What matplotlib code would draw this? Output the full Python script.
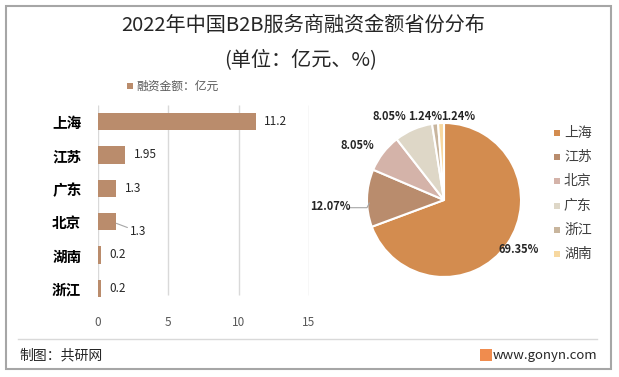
import matplotlib
matplotlib.use("Agg")
import matplotlib.pyplot as plt
from matplotlib.patches import Rectangle
from matplotlib.lines import Line2D

plt.rcParams['font.family'] = ['Noto Sans CJK SC', 'DejaVu Sans']

# Data
bar_categories = ['上海', '江苏', '广东', '北京', '湖南', '浙江']
bar_values = [11.2, 1.95, 1.3, 1.3, 0.2, 0.2]
bar_labels = ['11.2', '1.95', '1.3', '1.3', '0.2', '0.2']
x_ticks = [0, 5, 10, 15]

pie_categories = ['上海', '江苏', '北京', '广东', '浙江', '湖南']
pie_values = [11.2, 1.95, 1.3, 1.3, 0.2, 0.2]
pie_pct_labels = ['69.35%', '12.07%', '8.05%', '8.05%', '1.24%', '1.24%']
pie_colors = ['#D38C4F', '#B98C6D', '#D4B3A9', '#DED7C7', '#C8B59D', '#F7D8A0']

W, H = 619, 377
fig = plt.figure(figsize=(W / 100, H / 100), dpi=100)
fig.patch.set_facecolor('white')

def fx(px):
    return px / W

def fy(py):
    return 1 - py / H

# Border
fig.add_artist(Rectangle((fx(6), fy(369)), fx(611) - fx(6), fy(6) - fy(369),
                         transform=fig.transFigure, fill=False,
                         edgecolor='#A6A6A6', lw=1.5))
# footer separator
fig.add_artist(Line2D([fx(18), fx(597)], [fy(339), fy(339)], transform=fig.transFigure,
                      color='#D9D9D9', lw=1))

# Titles
fig.text(fx(303), fy(25), '2022年中国B2B服务商融资金额省份分布', ha='center', va='center',
         fontsize=14.5, color='#262626')
fig.text(fx(301), fy(60), '(单位：亿元、%)', ha='center', va='center',
         fontsize=14.5, color='#262626')

# Bar legend
fig.add_artist(Rectangle((fx(127), fy(89)), fx(6), 6 / H, transform=fig.transFigure,
                         color='#BA8C6C', lw=0))
fig.text(fx(136), fy(86), '融资金额：亿元', ha='left', va='center', fontsize=8.5,
         color='#595959')

# Bar chart
axb = fig.add_axes([fx(98), fy(305), fx(309) - fx(98), (305 - 105) / H])
ypos = list(range(len(bar_categories)))
axb.barh(ypos, bar_values, height=0.52, color='#BA8C6C', zorder=3)
axb.vlines(x_ticks, -0.5, 5.2, color='#D9D9D9', lw=1, zorder=1)
axb.set_xlim(0, 15)
axb.set_ylim(5.5, -0.5)
axb.set_xticks(x_ticks)
axb.set_xticklabels([str(t) for t in x_ticks])
axb.set_yticks(ypos)
axb.set_yticklabels(bar_categories, fontsize=10.5, fontweight='bold', color='#000000')
axb.tick_params(axis='x', length=0, pad=8, labelsize=8.5, labelcolor='#595959')
axb.tick_params(axis='y', length=0, pad=12)
for s in axb.spines.values():
    s.set_visible(False)
axb.patch.set_alpha(0)
for i, (v, lab) in enumerate(zip(bar_values, bar_labels)):
    if bar_categories[i] == '北京':
        axb.annotate(lab, xy=(v, i + 0.05), xytext=(10, -6), textcoords='offset points',
                     ha='left', va='center', fontsize=8.5, color='#262626',
                     arrowprops=dict(arrowstyle='-', color='#A6A6A6', lw=0.8,
                                     shrinkA=0, shrinkB=0))
    else:
        axb.annotate(lab, xy=(v, i), xytext=(6, 0), textcoords='offset points',
                     ha='left', va='center', fontsize=8.5, color='#262626')

# Pie chart
cx, cy, r = 444, 200, 77
axp = fig.add_axes([fx(cx - r), fy(cy + r), 2 * r / W, 2 * r / H])
wedges, _ = axp.pie(pie_values, colors=pie_colors, startangle=90, counterclock=False,
                    radius=1, wedgeprops=dict(edgecolor='white', linewidth=1.5))
axp.set_xlim(-1, 1)
axp.set_ylim(-1, 1)
axp.set_aspect('equal')
axp.axis('off')

label_pos = [(0.97, -0.64), (-1.47, -0.08), (-1.13, 0.71), (-0.71, 1.09),
             (-0.24, 1.09), (0.18, 1.09)]
for (x, y), lab in zip(label_pos, pie_pct_labels):
    axp.text(x, y, lab, ha='center', va='center', fontsize=8, fontweight='bold',
             color='#262626', clip_on=False)
axp.plot([-1.22, -1.0, -0.97], [-0.1, -0.1, -0.04], color='#A6A6A6', lw=0.8, clip_on=False)

# Pie legend
for k, (name, col) in enumerate(zip(pie_categories, pie_colors)):
    yy = 133 + k * 24.2
    fig.add_artist(Rectangle((fx(554), fy(yy + 3)), fx(6), 6 / H, transform=fig.transFigure,
                             color=col, lw=0))
    fig.text(fx(564), fy(yy), name, ha='left', va='center', fontsize=10, color='#404040')

# Footer
fig.text(fx(19), fy(355), '制图：共研网', ha='left', va='center', fontsize=10, color='#262626')
fig.add_artist(Rectangle((fx(480), fy(361)), fx(12), 12 / H, transform=fig.transFigure,
                         color='#F08C4E', lw=0))
fig.text(fx(493), fy(355), 'www.gonyn.com', ha='left', va='center', fontsize=9.5,
         color='#262626')

fig.savefig('out.png', dpi=100)
